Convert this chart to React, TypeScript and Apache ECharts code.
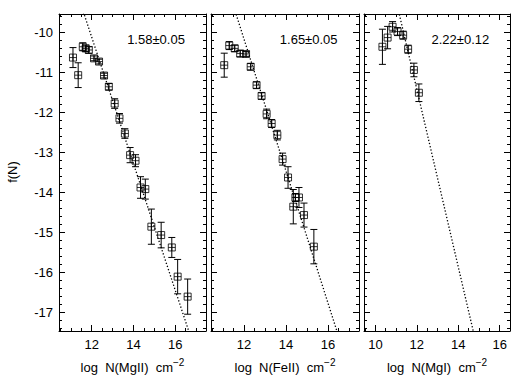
import React, { useEffect, useRef } from 'react';
import * as echarts from 'echarts';

// ---- data ----
const mgiiN = [11.10, 11.35, 11.57, 11.71, 11.86, 12.11, 12.35, 12.59, 12.82, 13.10, 13.33, 13.59, 13.84, 14.10, 14.34, 14.57, 14.86, 15.33, 15.84, 16.12, 16.60];
const mgiiF = [-10.63, -11.07, -10.36, -10.40, -10.44, -10.65, -10.73, -11.08, -11.36, -11.78, -12.15, -12.53, -13.07, -13.21, -13.88, -13.92, -14.86, -15.07, -15.38, -16.11, -16.61];
const mgiiErr = [0.25, 0.31, 0.10, 0.08, 0.08, 0.06, 0.06, 0.06, 0.08, 0.12, 0.12, 0.12, 0.19, 0.15, 0.27, 0.25, 0.44, 0.32, 0.25, 0.43, 0.44];

const feiiN = [11.06, 11.30, 11.56, 11.82, 12.10, 12.32, 12.60, 12.84, 13.08, 13.32, 13.59, 13.84, 14.10, 14.35, 14.45, 14.62, 14.86, 15.33];
const feiiF = [-10.82, -10.33, -10.40, -10.53, -10.54, -10.86, -11.32, -11.59, -12.04, -12.28, -12.57, -13.17, -13.63, -14.36, -14.13, -14.13, -14.57, -15.36];
const feiiErr = [0.30, 0.10, 0.08, 0.08, 0.06, 0.08, 0.08, 0.08, 0.12, 0.10, 0.12, 0.15, 0.27, 0.43, 0.10, 0.25, 0.30, 0.43];

const mgiN = [10.34, 10.59, 10.83, 11.07, 11.34, 11.58, 11.86, 12.10];
const mgiF = [-10.36, -10.13, -9.86, -9.98, -10.07, -10.42, -10.94, -11.51];
const mgiErr = [0.44, 0.28, 0.13, 0.10, 0.10, 0.10, 0.17, 0.22];

// fitted power laws (end points of the dotted lines)
const fitMgiiX = [11.60, 16.72];
const fitMgiiY = [-9.49, -17.58];
const fitFeiiX = [11.58, 16.45];
const fitFeiiY = [-9.47, -17.51];
const fitMgiX = [11.12, 14.76];
const fitMgiY = [-9.47, -17.55];

const slopeLabels = ['1.58±0.05', '1.65±0.05', '2.22±0.12'];
const ionNames = ['MgII', 'FeII', 'MgI'];

// tick labels
const xTicksMgII = [12, 14, 16];
const xTicksFeII = [12, 14, 16];
const xTicksMgI = [10, 12, 14, 16];
const yTicks = [-17, -16, -15, -14, -13, -12, -11, -10];

const X_MINOR_STEP = 0.5;
const Y_MINOR_STEP = 0.2;

function ticksBetween(lo: number, hi: number, step: number): number[] {
  const out: number[] = [];
  const start = Math.ceil(lo / step - 1e-9);
  const end = Math.floor(hi / step + 1e-9);
  for (let k = start; k <= end; k++) out.push(Math.round(k * step * 1000) / 1000);
  return out;
}

const FONT = '"Liberation Sans", Arial, Helvetica, sans-serif';

export default function App() {
  const ref = useRef<HTMLDivElement>(null);

  useEffect(() => {
    if (!ref.current) return;
    const chart = echarts.init(ref.current, undefined, { renderer: 'svg' });

    const rects = [
      { left: 59, width: 147 },
      { left: 211, width: 148 },
      { left: 364, width: 146 },
    ];
    const top = 14;
    const height = 317;
    const xRanges = [[10.43, 17.48], [10.43, 17.48], [9.45, 16.5]];
    const yRange = [-17.47, -9.54];
    const xMajors = [xTicksMgII, xTicksFeII, xTicksMgI];
    const pts = [
      { x: mgiiN, y: mgiiF, e: mgiiErr, fx: fitMgiiX, fy: fitMgiiY },
      { x: feiiN, y: feiiF, e: feiiErr, fx: fitFeiiX, fy: fitFeiiY },
      { x: mgiN, y: mgiF, e: mgiErr, fx: fitMgiX, fy: fitMgiY },
    ];
    const black = '#000';
    const yMinor = ticksBetween(yRange[0], yRange[1], Y_MINOR_STEP);

    const grids: any[] = [];
    const xAxes: any[] = [];
    const yAxes: any[] = [];
    const series: any[] = [];
    const graphics: any[] = [];

    for (let p = 0; p < 3; p++) {
      const r = rects[p];
      grids.push({ left: r.left, top, width: r.width, height, containLabel: false });
      grids.push({ left: r.left, top, width: r.width, height, containLabel: false });
      const gMaj = 2 * p;
      const gMin = 2 * p + 1;
      const [xmin, xmax] = xRanges[p];
      const xMinor = ticksBetween(xmin, xmax, X_MINOR_STEP);
      const baseX = { type: 'value', min: xmin, max: xmax, splitLine: { show: false } };
      const baseY = { type: 'value', min: yRange[0], max: yRange[1], splitLine: { show: false } };
      const line = { show: true, lineStyle: { color: black, width: 1 } };

      xAxes.push({
        ...baseX, gridIndex: gMaj, position: 'bottom',
        axisLine: line,
        axisTick: { show: true, inside: true, length: 6, customValues: xMajors[p], lineStyle: { color: black, width: 1 } },
        axisLabel: { show: true, customValues: xMajors[p], color: black, fontSize: 13, fontFamily: FONT, margin: 7 },
        name: `{a|log  N(${ionNames[p]})  cm}{s|−2}`,
        nameLocation: 'middle',
        nameGap: 26,
        nameTextStyle: {
          color: black, fontFamily: FONT, fontSize: 13,
          rich: {
            a: { color: black, fontFamily: FONT, fontSize: 13 },
            s: { color: black, fontFamily: FONT, fontSize: 10, padding: [0, 0, 10, 0] },
          },
        },
      });
      xAxes.push({
        ...baseX, gridIndex: gMaj, position: 'top',
        axisLine: line,
        axisTick: { show: true, inside: true, length: 6, customValues: xMajors[p], lineStyle: { color: black, width: 1 } },
        axisLabel: { show: false },
      });
      xAxes.push({
        ...baseX, gridIndex: gMin, position: 'bottom',
        axisLine: { show: false },
        axisTick: { show: true, inside: true, length: 3, customValues: xMinor, lineStyle: { color: black, width: 1 } },
        axisLabel: { show: false },
      });
      xAxes.push({
        ...baseX, gridIndex: gMin, position: 'top',
        axisLine: { show: false },
        axisTick: { show: true, inside: true, length: 3, customValues: xMinor, lineStyle: { color: black, width: 1 } },
        axisLabel: { show: false },
      });

      yAxes.push({
        ...baseY, gridIndex: gMaj, position: 'left',
        axisLine: line,
        axisTick: { show: true, inside: true, length: 6, customValues: yTicks, lineStyle: { color: black, width: 1 } },
        axisLabel: p === 0
          ? { show: true, customValues: yTicks, color: black, fontSize: 13, fontFamily: FONT, margin: 6 }
          : { show: false },
      });
      yAxes.push({
        ...baseY, gridIndex: gMaj, position: 'right',
        axisLine: line,
        axisTick: { show: true, inside: true, length: 6, customValues: yTicks, lineStyle: { color: black, width: 1 } },
        axisLabel: { show: false },
      });
      yAxes.push({
        ...baseY, gridIndex: gMin, position: 'left',
        axisLine: { show: false },
        axisTick: { show: true, inside: true, length: 3, customValues: yMinor, lineStyle: { color: black, width: 1 } },
        axisLabel: { show: false },
      });
      yAxes.push({
        ...baseY, gridIndex: gMin, position: 'right',
        axisLine: { show: false },
        axisTick: { show: true, inside: true, length: 3, customValues: yMinor, lineStyle: { color: black, width: 1 } },
        axisLabel: { show: false },
      });

      const d = pts[p];
      const xi = 4 * p;
      const yi = 4 * p;

      series.push({
        type: 'line',
        xAxisIndex: xi, yAxisIndex: yi,
        data: d.fx.map((v, i) => [v, d.fy[i]]),
        symbol: 'none',
        clip: true,
        silent: true,
        lineStyle: { color: black, width: 1.3, type: [1.3, 2] },
        z: 1,
      });
      series.push({
        type: 'custom',
        xAxisIndex: xi, yAxisIndex: yi,
        data: d.x.map((v, i) => [v, d.y[i] - d.e[i], d.y[i] + d.e[i]]),
        clip: true,
        silent: true,
        z: 2,
        renderItem: (params: any, api: any) => {
          const xv = api.value(0);
          const lo = api.coord([xv, api.value(1)]);
          const hi = api.coord([xv, api.value(2)]);
          const cap = 3.5;
          const st = { stroke: black, lineWidth: 1 };
          return {
            type: 'group',
            children: [
              { type: 'line', shape: { x1: lo[0], y1: lo[1], x2: hi[0], y2: hi[1] }, style: st },
              { type: 'line', shape: { x1: lo[0] - cap, y1: lo[1], x2: lo[0] + cap, y2: lo[1] }, style: st },
              { type: 'line', shape: { x1: hi[0] - cap, y1: hi[1], x2: hi[0] + cap, y2: hi[1] }, style: st },
            ],
          };
        },
      });
      series.push({
        type: 'scatter',
        xAxisIndex: xi, yAxisIndex: yi,
        data: d.x.map((v, i) => [v, d.y[i]]),
        symbol: 'path://M0,0L8,0L8,8L0,8Z M4,0L4,8 M0,4L8,4',
        symbolSize: 7,
        silent: true,
        itemStyle: { color: 'rgba(0,0,0,0)', borderColor: black, borderWidth: 1 },
        z: 3,
      });

      graphics.push({
        type: 'text',
        x: r.left + r.width * 0.66,
        y: 39,
        style: {
          text: slopeLabels[p], fill: black, fontSize: 13, fontFamily: FONT,
          align: 'center', verticalAlign: 'middle',
        },
      });
    }

    graphics.push({
      type: 'text',
      x: 12,
      y: 172,
      rotation: Math.PI / 2,
      style: {
        text: 'f(N)', fill: black, fontSize: 13, fontFamily: FONT,
        align: 'center', verticalAlign: 'middle',
      },
    });

    chart.setOption({
      animation: false,
      backgroundColor: '#fff',
      textStyle: { fontFamily: FONT },
      grid: grids,
      xAxis: xAxes,
      yAxis: yAxes,
      series,
      graphic: graphics,
    });

    return () => chart.dispose();
  }, []);

  return (
    <div
      ref={ref}
      style={{ position: 'fixed', left: 0, top: 0, width: 521, height: 381, background: '#fff' }}
    />
  );
}
